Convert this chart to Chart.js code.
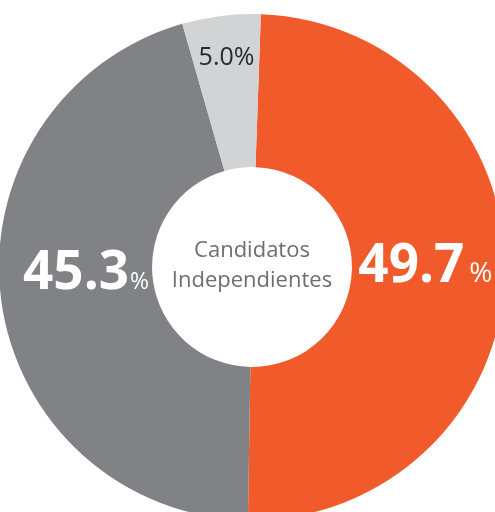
<!DOCTYPE html>
<html lang="es">
<head>
    <meta charset="UTF-8">
    <title>Candidatos Independientes</title>
    <script src="https://cdn.jsdelivr.net/npm/chart.js"></script>
    <style>
        body {
            margin: 0;
            padding: 0;
            width: 495px;
            height: 512px;
            overflow: hidden;
            background-color: #ffffff;
            position: relative;
        }

        /* el anillo se sale del marco por la derecha y por abajo */
        #wrap {
            position: absolute;
            left: -1px;
            top: 14px;
            width: 506px;
            height: 506px;
        }
    </style>
</head>
<body>
    <div id="wrap"><canvas id="donaChart"></canvas></div>

    <script>
        // Datos
        const categorias = ['Candidato A', 'Candidato B', 'Otros'];
        const porcentajes = [49.7, 45.3, 5.0];
        const etiquetas = ['49.7', '45.3', '5.0'];
        const colores = ['#f15a2b', '#808285', '#d1d3d4'];
        const textoCentro = ['Candidatos', 'Independientes'];

        const FUENTE = '"Open Sans", "Noto Sans", sans-serif';

        // estilo de cada etiqueta (ajustes finos respecto al centro del arco)
        const estiloEtiquetas = [
            { grande: true, dx: -3, dy: -8, pct: 28, sep: 5 },
            { grande: true, dx: 9, dy: -20, pct: 23, sep: 1 },
            { grande: false, dx: -4, dy: -36 }
        ];

        const etiquetasPlugin = {
            id: 'etiquetas',
            afterDatasetsDraw(chart) {
                const ctx = chart.ctx;
                const meta = chart.getDatasetMeta(0);
                ctx.save();
                ctx.textBaseline = 'middle';

                meta.data.forEach((arco, i) => {
                    const pos = arco.tooltipPosition();
                    const est = estiloEtiquetas[i];
                    const x = pos.x + est.dx;
                    const y = pos.y + est.dy;

                    if (est.grande) {
                        // número en negrita y el % más pequeño
                        ctx.font = 'bold 53px ' + FUENTE;
                        const wNum = ctx.measureText(etiquetas[i]).width;
                        ctx.font = est.pct + 'px ' + FUENTE;
                        const wPct = ctx.measureText('%').width;
                        const total = wNum + est.sep + wPct;
                        const x0 = x - total / 2;

                        ctx.fillStyle = '#ffffff';
                        ctx.textAlign = 'left';
                        ctx.textBaseline = 'alphabetic';
                        ctx.font = 'bold 53px ' + FUENTE;
                        ctx.fillText(etiquetas[i], x0, y + 19);
                        ctx.font = est.pct + 'px ' + FUENTE;
                        ctx.fillText('%', x0 + wNum + est.sep, y + 19);
                    } else {
                        ctx.fillStyle = '#2b2a2b';
                        ctx.textAlign = 'center';
                        ctx.textBaseline = 'alphabetic';
                        ctx.font = '25px ' + FUENTE;
                        ctx.fillText(etiquetas[i] + '%', x, y + 9);
                    }
                });

                // texto del centro
                const cx = (chart.chartArea.left + chart.chartArea.right) / 2;
                const cy = (chart.chartArea.top + chart.chartArea.bottom) / 2;
                ctx.fillStyle = '#6d6e71';
                ctx.textAlign = 'center';
                ctx.textBaseline = 'alphabetic';
                ctx.font = '22px ' + FUENTE;
                ctx.fillText(textoCentro[0], cx, cy - 10);
                ctx.fillText(textoCentro[1], cx, cy + 20);
                ctx.restore();
            }
        };

        const ctx = document.getElementById('donaChart').getContext('2d');
        new Chart(ctx, {
            type: 'doughnut',
            data: {
                labels: categorias,
                datasets: [{
                    data: porcentajes,
                    backgroundColor: colores,
                    borderWidth: 0,
                    offset: 0,
                    hoverOffset: 0
                }]
            },
            options: {
                responsive: true,
                maintainAspectRatio: false,
                animation: false,
                rotation: 2,
                cutout: '39.5%',
                layout: { padding: 0 },
                events: [],
                plugins: {
                    legend: { display: false },
                    tooltip: { enabled: false }
                }
            },
            plugins: [etiquetasPlugin]
        });
    </script>
</body>
</html>
